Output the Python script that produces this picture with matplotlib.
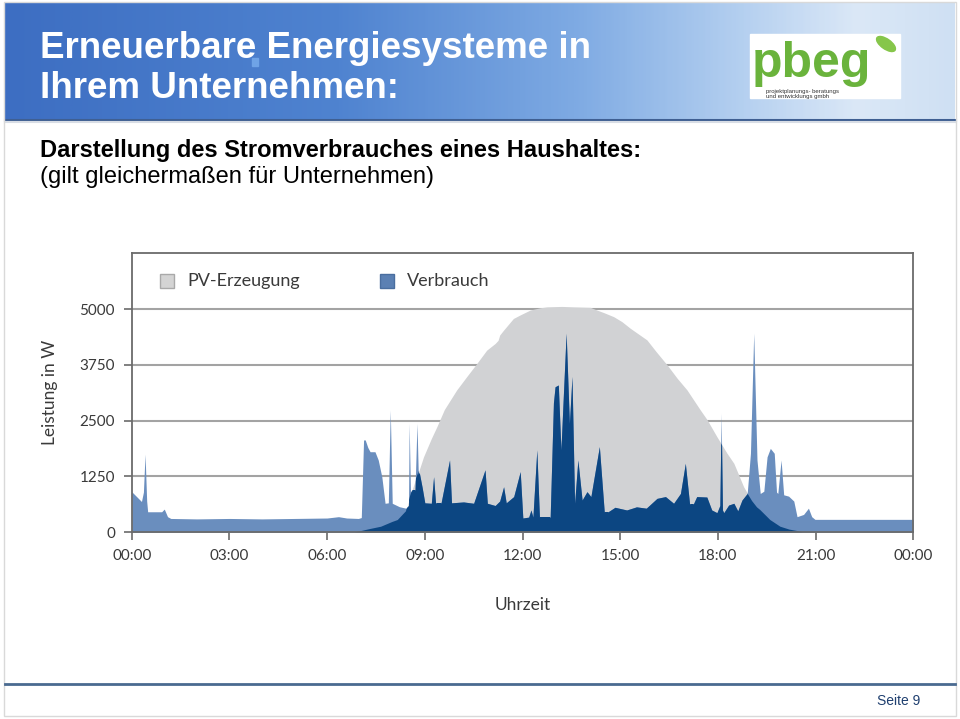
import numpy as np
import matplotlib
matplotlib.use("Agg")
import matplotlib.pyplot as plt
from matplotlib.patches import Rectangle, Ellipse
from matplotlib.colors import LinearSegmentedColormap

# Daily load profile of a household (hours, watts)
cons_hours = [0.00, 0.15, 0.30, 0.36, 0.41, 0.46, 0.49, 0.92, 1.00, 1.10, 1.20,
              2.0, 3.0, 4.0, 5.0, 6.0, 6.35, 6.6, 6.96, 7.05, 7.12, 7.17, 7.25,
              7.32, 7.47, 7.57, 7.68, 7.78, 7.88, 7.94, 8.00, 8.22, 8.42, 8.50,
              8.52, 8.56, 8.60, 8.70, 8.76, 8.80, 8.83, 8.92, 9.00, 9.20, 9.27,
              9.33, 9.50, 9.76, 9.82, 10.19, 10.5, 10.85, 10.92, 11.16, 11.30,
              11.42, 11.50, 11.73, 11.93, 12.01, 12.19, 12.26, 12.32, 12.44,
              12.52, 12.85, 12.95, 13.0, 13.1, 13.18, 13.34, 13.44, 13.52, 13.6,
              13.70, 13.83, 13.98, 14.10, 14.36, 14.51, 14.63, 14.84, 15.2, 15.5,
              15.8, 16.13, 16.39, 16.64, 16.85, 17.0, 17.13, 17.25, 17.35, 17.66,
              17.81, 17.97, 18.06, 18.10, 18.14, 18.18, 18.33, 18.49, 18.61,
              18.74, 18.9, 19.0, 19.10, 19.2, 19.30, 19.41, 19.51, 19.61, 19.73,
              19.80, 19.84, 19.94, 20.02, 20.17, 20.33, 20.43, 20.63, 20.78,
              20.88, 20.98, 22.0, 23.0, 24.0]
cons_watts = [910, 800, 690, 900, 1750, 700, 460, 460, 520, 350, 310,
              300, 310, 300, 310, 320, 350, 320, 310, 330, 2068, 2070, 1900,
              1805, 1805, 1620, 1245, 650, 660, 2740, 650, 573, 540, 600,
              2440, 900, 950, 950, 2440, 1300, 1340, 1000, 660, 650, 1245,
              660, 660, 1620, 660, 680, 650, 1400, 650, 600, 700,
              1020, 660, 800, 1360, 320, 340, 500, 340, 1845,
              340, 340, 2900, 3260, 3300, 1845, 4460, 2440, 3490, 650,
              1620, 723, 910, 800, 1920, 460, 460, 560, 500, 570,
              540, 760, 800, 650, 870, 1545, 640, 640, 800, 790,
              500, 440, 600, 2665, 500, 440, 610, 650, 480,
              723, 870, 1770, 4460, 1620, 870, 920, 1690, 1880, 1770,
              900, 870, 1620, 840, 810, 700, 350, 400, 540,
              350, 290, 290, 290, 290]

# PV generation (hours, watts)
pv_hours = [6.85, 7.0, 7.3, 7.66, 8.0, 8.17, 8.42, 8.55, 8.7, 8.83, 8.96, 9.2,
            9.37, 9.6, 9.98, 10.3, 10.6, 10.9, 11.16, 11.25, 11.3, 11.42, 11.72,
            11.93, 12.24, 12.54, 12.75, 13.2, 13.57, 14.08, 14.28, 14.5, 14.80,
            15.05, 15.31, 15.82, 16.1, 16.44, 16.75, 17.05, 17.46, 17.67, 17.97,
            18.28, 18.49, 18.79, 18.95, 19.05, 19.2, 19.30, 19.61, 19.92, 20.2,
            20.43, 20.6]
pv_watts = [0, 20, 70, 125, 230, 275, 470, 820, 1150, 1400, 1690, 2100,
            2365, 2750, 3190, 3500, 3785, 4080, 4230, 4300, 4420, 4530, 4790,
            4870, 4980, 5030, 5050, 5060, 5050, 5040, 4980, 4920, 4830,
            4720, 4570, 4310, 4050, 3750, 3450, 3190, 2740, 2520, 2140,
            1770, 1545, 1020, 820, 700, 560, 500, 275, 125, 60,
            30, 0]

hour_ticks = [0, 3, 6, 9, 12, 15, 18, 21, 24]
hour_labels = ["00:00", "03:00", "06:00", "09:00", "12:00", "15:00", "18:00", "21:00", "00:00"]
watt_ticks = [0, 1250, 2500, 3750, 5000]

pv_color = "#d1d2d4"
cons_color = "#6a8ebe"
own_color = "#0c4682"
text_color = "#3a3a3a"

W, H = 960, 719
fig = plt.figure(figsize=(W / 100, H / 100), dpi=100)
fig.patch.set_facecolor("white")

# slide background in pixel coordinates
bg = fig.add_axes([0, 0, 1, 1])
bg.set_xlim(0, W)
bg.set_ylim(H, 0)
bg.axis("off")

# header band with gradient
grad = np.linspace(0, 1, 400).reshape(1, -1)
cmap = LinearSegmentedColormap.from_list(
    "hdr", [(0.0, "#3d6ec2"), (0.35, "#4f83d0"), (0.6, "#7eaae3"),
            (0.78, "#b5d0f0"), (0.9, "#dbe8f7"), (1.0, "#cfe0f3")])
bg.imshow(grad, cmap=cmap, aspect="auto", extent=[5, 955, 119, 3], zorder=0)
bg.plot([5, 955], [119.5, 119.5], color="#3f5f92", lw=2.2, zorder=1)
bg.plot([5, 955], [122, 122], color="#d8dde5", lw=1.5, zorder=1)
bg.add_patch(Rectangle((252, 58), 6, 8, color="#6fa3e6", zorder=2))

bg.text(40, 58, "Erneuerbare Energiesysteme in", color="white", fontsize=26.5,
        fontweight="bold", family="Liberation Sans", va="baseline", zorder=3)
bg.text(40, 98, "Ihrem Unternehmen:", color="white", fontsize=26.5,
        fontweight="bold", family="Liberation Sans", va="baseline", zorder=3)

# logo
bg.add_patch(Rectangle((750, 34), 150, 64, color="white", zorder=2))
bg.text(752, 77, "pbeg", color="#6ab33c", fontsize=36, fontweight="bold",
        family="Liberation Sans", va="baseline", zorder=3)
bg.add_patch(Ellipse((886, 44), 22, 10, angle=35, color="#86c64a", zorder=3))
bg.text(766, 92.5, "projektplanungs- beratungs", color="#333333", fontsize=4.3,
        family="Liberation Sans", va="baseline", zorder=4)
bg.text(766, 98, "und entwicklungs gmbh", color="#333333", fontsize=4.3,
        family="Liberation Sans", va="baseline", zorder=4)

# subtitle
bg.text(40, 157, "Darstellung des Stromverbrauches eines Haushaltes:", color="black",
        fontsize=17, fontweight="bold", family="Liberation Sans", va="baseline")
bg.text(40, 183, "(gilt gleichermaßen für Unternehmen)", color="black",
        fontsize=17, family="Liberation Sans", va="baseline")

# footer
bg.plot([5, 955], [683.5, 683.5], color="#4a6a90", lw=2)
bg.text(920, 701, "Seite 9", color="#1f3f6f", fontsize=10, family="Liberation Sans",
        ha="right", va="center")
bg.add_patch(Rectangle((4, 2), 952, 714, fill=False, edgecolor="#d9d9d9", lw=1))

# chart axes
left, right, top, bottom = 131.7, 913.3, 253.3, 532.3
ax = fig.add_axes([left / W, 1 - bottom / H, (right - left) / W, (bottom - top) / H])
ax.set_facecolor("white")

pv_fill = ax.fill_between(pv_hours, pv_watts, color=pv_color, lw=0, zorder=1)
ax.fill_between(cons_hours, cons_watts, color=cons_color, lw=0, zorder=2)
own = ax.fill_between(cons_hours, cons_watts, color=own_color, lw=0, zorder=3)
own.set_clip_path(pv_fill.get_paths()[0], ax.transData)

ax.set_xlim(0, 24)
ax.set_ylim(0, 6250)
ax.set_xticks(hour_ticks)
ax.set_xticklabels(hour_labels)
ax.set_yticks(watt_ticks)
ax.set_axisbelow(True)
ax.grid(axis="y", color="#a3a3a3", lw=1.5)
ax.tick_params(axis="both", colors="#6b6b6b", labelcolor=text_color, labelsize=11,
               length=6, width=1.2, pad=6)
for lab in ax.get_xticklabels() + ax.get_yticklabels():
    lab.set_family("Lato")
for sp in ax.spines.values():
    sp.set_color("#6b6b6b")
    sp.set_linewidth(1.3)
    sp.set_zorder(5)

# legend
ax.add_patch(Rectangle((0.036, 0.875), 0.018, 0.05, transform=ax.transAxes,
                       facecolor="#d4d4d4", edgecolor="#a9a9a9", lw=1, zorder=6))
ax.text(0.071, 0.9, "PV-Erzeugung", transform=ax.transAxes, fontsize=13,
        family="Lato", color=text_color, va="center", zorder=6)
ax.add_patch(Rectangle((0.318, 0.875), 0.018, 0.05, transform=ax.transAxes,
                       facecolor="#5b80b3", edgecolor="#4a6e9f", lw=1, zorder=6))
ax.text(0.352, 0.9, "Verbrauch", transform=ax.transAxes, fontsize=13,
        family="Lato", color=text_color, va="center", zorder=6)

bg.text(50, 392, "Leistung in W", rotation=90, fontsize=12.5, family="Lato",
        color=text_color, ha="center", va="center")
bg.text(523, 605, "Uhrzeit", fontsize=12.5, family="Lato", color=text_color,
        ha="center", va="center")

fig.savefig("out.png", dpi=100)
